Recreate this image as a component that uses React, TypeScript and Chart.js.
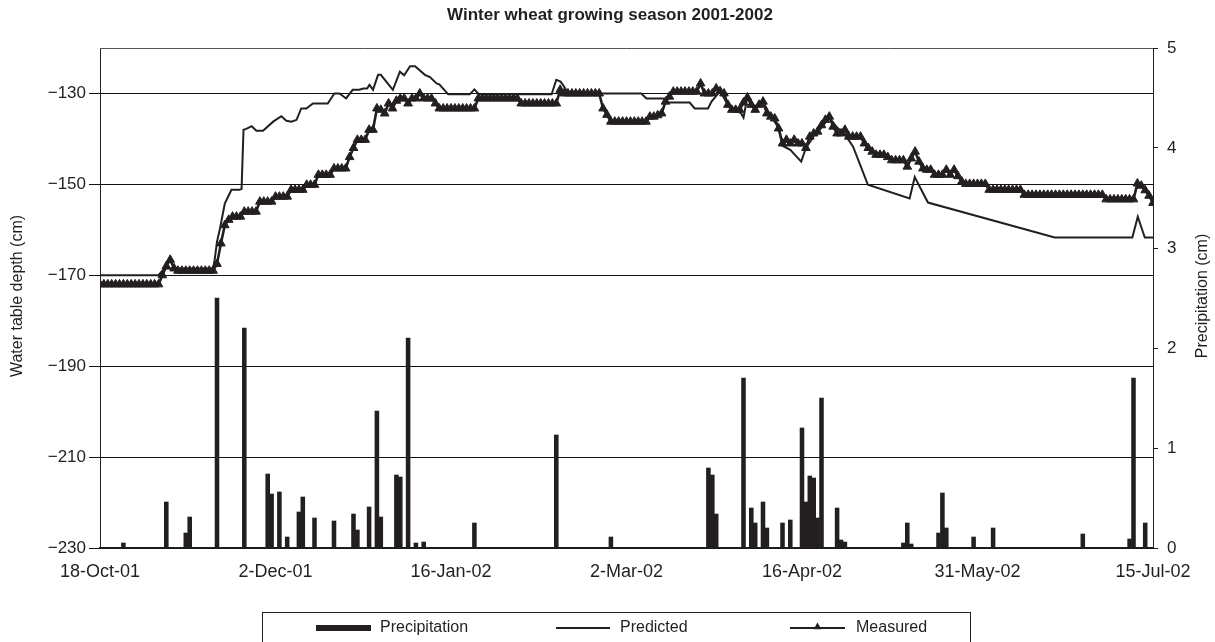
import { useEffect, useRef } from 'react';
import { Chart, registerables } from 'chart.js';

Chart.register(...registerables);

const FONT = '"Liberation Sans", Arial, Helvetica, sans-serif';
const INK = '#231f20';

// Day offsets (from 18-Oct-01) and their axis labels
const xTickDays = [0, 45, 90, 135, 180, 225, 270];
const xTickLabels = ['18-Oct-01', '2-Dec-01', '16-Jan-02', '2-Mar-02', '16-Apr-02', '31-May-02', '15-Jul-02'];
const depthTicks = [-230, -210, -190, -170, -150, -130];
const precipTicks = [0, 1, 2, 3, 4, 5];

// Measured water table depth (cm), one reading per day starting 18-Oct-01
const measuredDepth = [
  -172, -172, -172, -172, -172, -172, -172, -172, -172, -172,
  -172, -172, -172, -172, -172, -172, -170, -168, -166.6, -168.5,
  -169, -169, -169, -169, -169, -169, -169, -169, -169, -169,
  -167.5, -163, -159, -157.8, -157.1, -157.1, -157.1, -156, -156, -156,
  -156, -153.8, -153.8, -153.8, -153.8, -152.7, -152.7, -152.7, -152.7, -151.2,
  -151.2, -151.2, -151.2, -150.1, -150.1, -150.1, -147.9, -147.9, -147.9, -147.9,
  -146.5, -146.5, -146.5, -146.5, -144, -142, -140.2, -140.2, -140.2, -138,
  -138, -133.3, -133.6, -134.4, -132.2, -133.3, -131.6, -131.1, -131.1, -132.2,
  -131.1, -131.1, -130, -131.1, -131.1, -131.1, -132.2, -133.3, -133.3, -133.3,
  -133.3, -133.3, -133.3, -133.3, -133.3, -133.3, -133.3, -131.1, -131.1, -131.1,
  -131.1, -131.1, -131.1, -131.1, -131.1, -131.1, -131.1, -131.1, -132.2, -132.2,
  -132.2, -132.2, -132.2, -132.2, -132.2, -132.2, -132.2, -132.2, -129.2, -130,
  -130, -130, -130, -130, -130, -130, -130, -130, -130, -133.3,
  -134.7, -136.2, -136.2, -136.2, -136.2, -136.2, -136.2, -136.2, -136.2, -136.2,
  -136.2, -135.1, -135.1, -134.8, -134.4, -131.8, -130.7, -129.6, -129.6, -129.6,
  -129.6, -129.6, -129.6, -129.6, -127.8, -130, -130, -130, -128.9, -129.5,
  -130, -132.5, -133.6, -133.6, -133.6, -132, -130.9, -132.5, -133.6, -132.5,
  -131.8, -134.4, -135.1, -135.5, -137.7, -141, -140.2, -141, -140.2, -141,
  -141, -142, -139.5, -138.8, -138.4, -137, -135.8, -135.1, -137.3, -138.8,
  -138.8, -138, -139.5, -139.5, -139.5, -139.5, -141, -142, -142.8, -143.5,
  -143.5, -143.5, -144, -144.7, -144.7, -144.7, -144.7, -146.1, -144.3, -142.8,
  -145, -146.5, -146.8, -146.8, -147.9, -147.9, -147.9, -146.8, -147.9, -146.8,
  -148.2, -149.4, -149.9, -149.9, -149.9, -149.9, -149.9, -149.9, -151.2, -151.2,
  -151.2, -151.2, -151.2, -151.2, -151.2, -151.2, -151.2, -152.3, -152.3, -152.3,
  -152.3, -152.3, -152.3, -152.3, -152.3, -152.3, -152.3, -152.3, -152.3, -152.3,
  -152.3, -152.3, -152.3, -152.3, -152.3, -152.3, -152.3, -152.3, -153.3, -153.3,
  -153.3, -153.3, -153.3, -153.3, -153.3, -153.3, -149.8, -150.3, -151.3, -152.5,
  -154.1,
];

// Predicted water table depth (cm) at model output days
const predictedDays = [
  0, 15, 16.5, 29, 29.4, 30, 30.7, 32, 33.7, 35.8, 36.3, 36.8, 37.5, 38.9, 40.1, 41.8,
  44.4, 46.5, 47.8, 49.1, 50.4, 51.6, 52.9, 54.6, 58.4, 60.1, 61.4, 63.1, 64.8, 66.5,
  67.5, 68.5, 69.1, 70, 71.3, 72, 75.1, 76.9, 78, 79.5, 80.8, 83.3, 84.6, 86.3, 87,
  89.3, 94.8, 96, 97.2, 115.8, 117, 118.1, 118.7, 119.5, 120.5, 138.8, 140.1, 144.4,
  145.3, 151.2, 152.5, 155.9, 156.8, 159, 161, 163, 164.4, 165, 166, 168, 170, 172,
  174, 175, 177, 179.8, 181, 183, 185, 187, 189, 191, 193.1, 196.9, 207.6, 208.9,
  212.3, 244.8, 264.7, 266.1, 267.9, 270,
];
const predictedDepth = [
  -170, -170, -168.5, -168.5, -166.6, -162.6, -160, -154.2, -151.2, -151.2, -151, -138, -137.8, -137.2, -138.2, -138.2,
  -136.2, -135, -136, -136.2, -135.8, -133.3, -133.3, -132.2, -132.2, -130, -130, -131.1, -129.2, -129.2,
  -128.9, -128.9, -128.1, -129.2, -125.9, -125.9, -129.2, -125.2, -126, -124, -124, -125.9, -126.4, -127.8, -128,
  -130.2, -130.2, -129.1, -130.2, -130.2, -127, -127.4, -128.1, -129.2, -130, -130, -131.1, -131.1,
  -132, -132, -133.3, -133.3, -131.8, -129.5, -132.5, -133.6, -134.4, -135.3, -130.8, -133, -131.8, -135,
  -137.5, -141.5, -142.4, -145, -142, -139.4, -137.5, -135.3, -137.5, -139, -141.7, -150.1, -153.1, -148.4,
  -154, -161.7, -161.7, -157.1, -161.7, -161.7,
];

// Daily precipitation (cm) on rain days
const precipDays = [
  6, 17, 22, 23, 30, 37, 43, 44, 46, 48, 51, 52, 55, 60, 65, 66, 69, 71, 72, 76, 77, 79, 81, 83,
  96, 117, 131, 156, 157, 158, 165, 167, 168, 170, 171, 175, 177, 180, 181, 182, 183, 184, 185,
  189, 190, 191, 206, 207, 208, 215, 216, 217, 224, 229, 252, 264, 265, 268,
];
const precipCm = [
  0.05, 0.46, 0.15, 0.31, 2.5, 2.2, 0.74, 0.54, 0.56, 0.11, 0.36, 0.51, 0.3, 0.27, 0.34, 0.18, 0.41, 1.37, 0.31, 0.73, 0.71, 2.1, 0.05, 0.06,
  0.25, 1.13, 0.11, 0.8, 0.73, 0.34, 1.7, 0.4, 0.25, 0.46, 0.2, 0.25, 0.28, 1.2, 0.46, 0.72, 0.7, 0.3, 1.5,
  0.4, 0.08, 0.06, 0.05, 0.25, 0.04, 0.15, 0.55, 0.2, 0.11, 0.2, 0.14, 0.09, 1.7, 0.25,
];

const TITLE = 'Winter wheat growing season 2001-2002';
const LEFT_TITLE = 'Water table depth (cm)';
const RIGHT_TITLE = 'Precipitation (cm)';

function drawTriangle(ctx: CanvasRenderingContext2D, x: number, y: number, r: number) {
  const h = r * 1.5;
  const w = r * Math.sqrt(3);
  ctx.beginPath();
  ctx.moveTo(x, y - r);
  ctx.lineTo(x + w / 2, y - r + h);
  ctx.lineTo(x - w / 2, y - r + h);
  ctx.closePath();
  ctx.fill();
}

const decorations = {
  id: 'decorations',
  afterDraw(chart: any) {
    const { ctx, chartArea } = chart;
    ctx.save();
    ctx.fillStyle = INK;
    ctx.strokeStyle = INK;

    // top frame line
    ctx.lineWidth = 1;
    ctx.strokeStyle = '#555';
    ctx.beginPath();
    ctx.moveTo(chartArea.left, chartArea.top + 0.5);
    ctx.lineTo(chartArea.right, chartArea.top + 0.5);
    ctx.stroke();
    ctx.strokeStyle = INK;

    // title
    ctx.font = `bold 17px ${FONT}`;
    ctx.textAlign = 'center';
    ctx.textBaseline = 'middle';
    ctx.fillText(TITLE, 610, 15);

    // axis titles, both reading bottom-to-top
    ctx.font = `16px ${FONT}`;
    ctx.save();
    ctx.translate(18, 296);
    ctx.rotate(-Math.PI / 2);
    ctx.fillText(LEFT_TITLE, 0, 0);
    ctx.restore();
    ctx.save();
    ctx.translate(1203, 296);
    ctx.rotate(-Math.PI / 2);
    ctx.fillText(RIGHT_TITLE, 0, 0);
    ctx.restore();

    // legend box
    const ds = chart.data.datasets;
    ctx.lineWidth = 1;
    ctx.strokeRect(262.5, 612.5, 708, 40);
    const ly = 628;
    ctx.font = `16px ${FONT}`;
    ctx.textAlign = 'left';
    ctx.textBaseline = 'middle';

    ctx.fillRect(316, ly - 3, 55, 6);
    ctx.fillText(ds[0].label, 380, ly);

    ctx.lineWidth = 1.8;
    ctx.beginPath();
    ctx.moveTo(556, ly);
    ctx.lineTo(610, ly);
    ctx.stroke();
    ctx.fillText(ds[1].label, 620, ly);

    ctx.lineWidth = 2;
    ctx.beginPath();
    ctx.moveTo(790, ly);
    ctx.lineTo(845, ly);
    ctx.stroke();
    drawTriangle(ctx, 817.5, ly - 1, 4.5);
    ctx.fillText(ds[2].label, 856, ly);

    ctx.restore();
  },
};

export default function App() {
  const ref = useRef<HTMLCanvasElement>(null);

  useEffect(() => {
    const canvas = ref.current;
    if (!canvas) return;

    const chart = new Chart(canvas, {
      type: 'line',
      data: {
        datasets: [
          {
            type: 'bar',
            label: 'Precipitation',
            data: precipDays.map((d, i) => ({ x: d, y: precipCm[i] })),
            backgroundColor: INK,
            borderWidth: 0,
            barThickness: 3.9,
            yAxisID: 'y2',
            xAxisID: 'x',
            order: 3,
          } as any,
          {
            type: 'line',
            label: 'Predicted',
            data: predictedDays.map((d, i) => ({ x: d, y: predictedDepth[i] })),
            borderColor: INK,
            borderWidth: 2,
            pointRadius: 0,
            tension: 0,
            fill: false,
            yAxisID: 'y',
            order: 2,
          },
          {
            type: 'line',
            label: 'Measured',
            data: measuredDepth.map((v, i) => ({ x: i, y: v })),
            borderColor: INK,
            borderWidth: 2.6,
            pointStyle: 'triangle',
            pointRadius: 5,
            pointBorderWidth: 1,
            pointBackgroundColor: INK,
            pointBorderColor: INK,
            tension: 0,
            fill: false,
            yAxisID: 'y',
            order: 1,
          },
        ],
      },
      options: {
        responsive: false,
        animation: false,
        devicePixelRatio: 1,
        layout: { padding: { top: 48, left: 0, right: 0, bottom: 0 } },
        plugins: {
          legend: { display: false },
          title: { display: false },
          tooltip: { enabled: false },
        },
        scales: {
          x: {
            type: 'linear',
            min: 0,
            max: 270,
            offset: false,
            afterFit: (s: any) => {
              s.height = 94;
            },
            afterBuildTicks: (s: any) => {
              s.ticks = xTickDays.map((v) => ({ value: v }));
            },
            ticks: {
              color: INK,
              font: { family: FONT, size: 18 },
              padding: 13,
              maxRotation: 0,
              autoSkip: false,
              callback: (v: any) => {
                const i = xTickDays.indexOf(Number(v));
                return i >= 0 ? xTickLabels[i] : '';
              },
            },
            grid: { display: false, drawTicks: false },
            border: { display: true, color: INK, width: 1.5 },
          },
          y: {
            type: 'linear',
            position: 'left',
            min: -230,
            max: -120,
            afterFit: (s: any) => {
              s.width = 100;
            },
            afterBuildTicks: (s: any) => {
              s.ticks = depthTicks.map((v) => ({ value: v }));
            },
            ticks: {
              color: INK,
              font: { family: FONT, size: 17 },
              padding: 3,
              callback: (v: any) => '\u2212' + Math.abs(Number(v)),
            },
            grid: {
              color: '#111',
              lineWidth: 1,
              drawTicks: true,
              tickLength: 11,
            },
            border: { display: true, color: INK, width: 1 },
          },
          y2: {
            type: 'linear',
            position: 'right',
            min: 0,
            max: 5,
            afterFit: (s: any) => {
              s.width = 62;
            },
            afterBuildTicks: (s: any) => {
              s.ticks = precipTicks.map((v) => ({ value: v }));
            },
            ticks: {
              color: INK,
              font: { family: FONT, size: 17 },
              padding: 9,
            },
            grid: {
              drawOnChartArea: false,
              color: INK,
              drawTicks: true,
              tickLength: 5,
            },
            border: { display: true, color: INK, width: 1 },
          },
        },
      },
      plugins: [decorations],
    });

    return () => chart.destroy();
  }, []);

  return (
    <div style={{ position: 'absolute', left: 0, top: 0, width: 1215, height: 642, background: '#fff' }}>
      <canvas ref={ref} width={1215} height={642} style={{ display: 'block' }} />
    </div>
  );
}
